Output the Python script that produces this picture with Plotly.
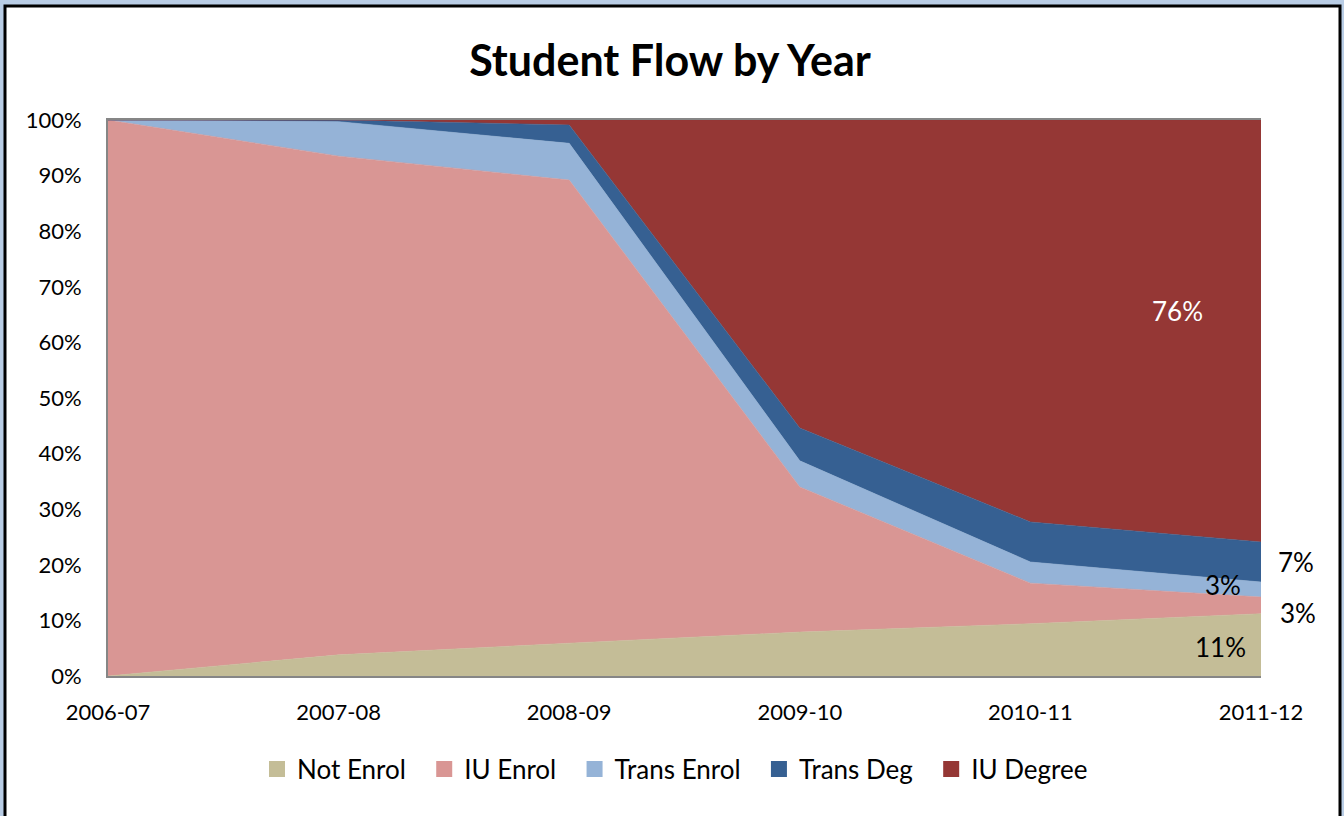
import plotly.graph_objects as go

years = ["2006-07", "2007-08", "2008-09", "2009-10", "2010-11", "2011-12"]
series_names = ["Not Enrol", "IU Enrol", "Trans Enrol", "Trans Deg", "IU Degree"]
not_enrol = [0.0, 3.8, 5.9, 7.9, 9.4, 11.2]
iu_enrol = [100.0, 89.7, 83.3, 26.1, 7.3, 3.0]
trans_enrol = [0.0, 6.2, 6.6, 4.7, 3.8, 2.7]
trans_deg = [0.0, 0.3, 3.3, 5.9, 7.2, 7.2]
iu_degree = [0.0, 0.0, 0.9, 55.4, 72.3, 75.9]
colors = ["#c4bd97", "#d99694", "#95b3d7", "#366092", "#953735"]

series = [not_enrol, iu_enrol, trans_enrol, trans_deg, iu_degree]
FONT = "Lato"

W, H = 1344, 816
L, R, T, B = 108, 1344 - 1261, 120, 816 - 676
PW, PH = W - L - R, H - T - B

fig = go.Figure()
for name, vals, c in zip(series_names, series, colors):
    fig.add_trace(go.Scatter(
        x=years, y=vals, name=name, stackgroup="one", mode="lines",
        line=dict(width=0.6, color=c), fillcolor=c, hoverinfo="skip",
        showlegend=False,
    ))
# square legend swatches (trailing non-breaking spaces widen the gap between entries)
for i, (name, c) in enumerate(zip(series_names, colors)):
    pad = "\u00a0" * 2 if i < len(series_names) - 1 else ""
    fig.add_trace(go.Scatter(
        x=[None], y=[None], name=name + pad, mode="markers",
        marker=dict(symbol="square", size=16, color=c), showlegend=True,
    ))

# data labels for last category
last = len(years) - 1
cum = 0.0
centers = []
for vals in series:
    v = vals[last]
    centers.append(cum + v / 2)
    cum += v
# (xshift, yshift, color) per series label, mimicking Excel placement
label_offsets = [(-41, -2, "black"), (37, -8, "black"), (-38, 5, "black"), (35, 0, "black"), (-84, 20, "white")]
for vals, ctr, (xs, ys, col) in zip(series, centers, label_offsets):
    fig.add_annotation(
        x=years[last], y=ctr, text=f"{round(vals[last])}%", showarrow=False,
        xshift=xs, yshift=ys, font=dict(family=FONT, size=26, color=col),
    )

# outer frame
fig.add_shape(
    type="rect", xref="paper", yref="paper", layer="below",
    x0=(5 - L) / PW, x1=(1340 - L) / PW,
    y0=(H - B - 840) / PH, y1=(H - B - 6) / PH,
    fillcolor="white", line=dict(color="black", width=3),
)

fig.update_layout(
    width=W, height=H,
    margin=dict(l=L, r=R, t=T, b=B),
    paper_bgcolor="#b9cde5", plot_bgcolor="white",
    font=dict(family=FONT, size=22, color="black"),
    title=dict(text="<b>Student Flow by Year</b>", x=670 / W, xref="container", xanchor="center",
               y=1 - 61 / H, yref="container", yanchor="middle",
               font=dict(family=FONT, size=43, color="black")),
    legend=dict(orientation="h", traceorder="normal", x=(675 - L) / PW, xanchor="center",
                y=(676 - 769) / PH, yanchor="middle",
                font=dict(family=FONT, size=26), itemwidth=30, bgcolor="rgba(0,0,0,0)"),
    showlegend=True,
    hovermode=False,
)
fig.update_xaxes(type="category", range=[0, len(years) - 1], showgrid=False, zeroline=False,
                 showline=True, linecolor="#868686", linewidth=2, mirror=True,
                 ticks="", ticklabelstandoff=16, tickfont=dict(family=FONT, size=22))
fig.update_yaxes(range=[0, 100], dtick=10, ticksuffix="%", showgrid=False, zeroline=False,
                 showline=True, linecolor="#868686", linewidth=2,
                 ticks="", ticklabelstandoff=20, tickfont=dict(family=FONT, size=22))

fig.write_html("out.html", config={"displayModeBar": False},
               post_script="document.body.style.margin='0';document.body.style.overflow='hidden';")
